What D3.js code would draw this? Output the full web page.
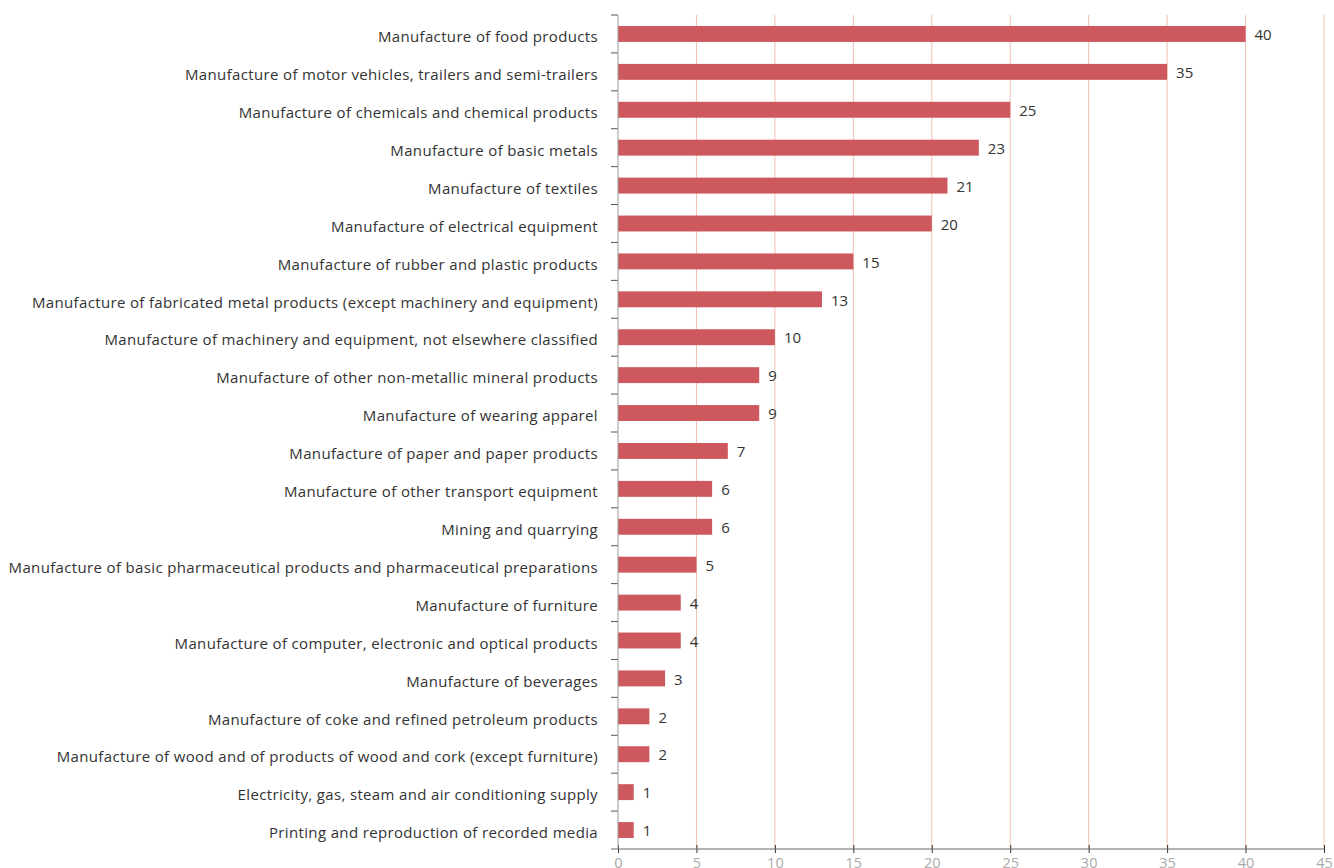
<!DOCTYPE html>
<html>
<head>
<meta charset="utf-8">
<script src="https://cdn.jsdelivr.net/npm/d3@7"></script>
<style>
  body { margin: 0; background: #fff; }
  svg { display: block; font-family: "Open Sans", "Noto Sans", sans-serif; }
</style>
</head>
<body>
<svg id="vis" width="1334" height="868"></svg>
<script>
// categories and counts, top to bottom
const categories = [
    "Manufacture of food products",
    "Manufacture of motor vehicles, trailers and semi-trailers",
    "Manufacture of chemicals and chemical products",
    "Manufacture of basic metals",
    "Manufacture of textiles",
    "Manufacture of electrical equipment",
    "Manufacture of rubber and plastic products",
    "Manufacture of fabricated metal products (except machinery and equipment)",
    "Manufacture of machinery and equipment, not elsewhere classified",
    "Manufacture of other non-metallic mineral products",
    "Manufacture of wearing apparel",
    "Manufacture of paper and paper products",
    "Manufacture of other transport equipment",
    "Mining and quarrying",
    "Manufacture of basic pharmaceutical products and pharmaceutical preparations",
    "Manufacture of furniture",
    "Manufacture of computer, electronic and optical products",
    "Manufacture of beverages",
    "Manufacture of coke and refined petroleum products",
    "Manufacture of wood and of products of wood and cork (except furniture)",
    "Electricity, gas, steam and air conditioning supply",
    "Printing and reproduction of recorded media"
];
const values = [40, 35, 25, 23, 21, 20, 15, 13, 10, 9, 9, 7, 6, 6, 5, 4, 4, 3, 2, 2, 1, 1];
const xTicks = [0, 5, 10, 15, 20, 25, 30, 35, 40, 45];

const MARGINS = {top: 15, right: 10, bottom: 19, left: 618};
const width = 1334, height = 868;

const data = categories.map((c, i) => ({name: c, value: values[i]}));

const svg = d3.select("#vis");

const x = d3.scaleLinear()
    .domain([0, 45])
    .range([MARGINS.left, 1324]);

const y = d3.scaleBand()
    .domain(categories)
    .range([MARGINS.top, height - MARGINS.bottom])
    .paddingInner(0.58)
    .paddingOuter(0.29);

const plotBottom = height - MARGINS.bottom;

// grid lines
svg.append("g")
    .selectAll("line")
    .data(xTicks.filter(d => d > 0))
    .enter()
    .append("line")
    .attr("x1", d => x(d)).attr("x2", d => x(d))
    .attr("y1", MARGINS.top).attr("y2", plotBottom)
    .attr("stroke", "#f0bfb0")
    .attr("stroke-width", 1);

// bars
svg.append("g")
    .selectAll("rect")
    .data(data)
    .enter()
    .append("rect")
    .attr("x", x(0))
    .attr("y", d => y(d.name))
    .attr("width", d => x(d.value) - x(0))
    .attr("height", y.bandwidth())
    .attr("fill", "#cd585d");

// value labels
svg.append("g")
    .selectAll("text")
    .data(data)
    .enter()
    .append("text")
    .attr("x", d => x(d.value) + 9)
    .attr("y", d => y(d.name) + y.bandwidth() / 2 + 1)
    .attr("dy", "0.35em")
    .attr("fill", "#333")
    .style("font-size", "15px")
    .text(d => d.value);

// x axis
const xAxis = d3.axisBottom(x)
    .tickValues(xTicks)
    .tickSize(4)
    .tickPadding(5);
const gx = svg.append("g")
    .attr("transform", `translate(0, ${plotBottom})`)
    .call(xAxis);
gx.select(".domain").remove();
gx.append("line")
    .attr("x1", 611).attr("x2", 1324)
    .attr("stroke", "#666");
gx.selectAll(".tick line").attr("y1", -4).attr("stroke", "#333");
gx.selectAll(".tick text")
    .attr("fill", "#aaa")
    .style("font-size", "14.5px")
    .style("font-family", "'Open Sans', 'Noto Sans', sans-serif");

// y axis: ticks at band boundaries
const boundaries = categories.map(c => y(c) - y.step() * y.paddingInner() / 2);
svg.append("g")
    .selectAll("line")
    .data(boundaries)
    .enter()
    .append("line")
    .attr("x1", MARGINS.left - 7).attr("x2", MARGINS.left)
    .attr("y1", d => d).attr("y2", d => d)
    .attr("stroke", "#555");
svg.append("line")
    .attr("x1", MARGINS.left).attr("x2", MARGINS.left)
    .attr("y1", MARGINS.top).attr("y2", plotBottom)
    .attr("stroke", "#999");

// category labels
svg.append("g")
    .selectAll("text")
    .data(data)
    .enter()
    .append("text")
    .attr("x", MARGINS.left - 20)
    .attr("y", d => y(d.name) + y.bandwidth() / 2 + 3)
    .attr("dy", "0.35em")
    .attr("text-anchor", "end")
    .attr("fill", "#333")
    .style("font-size", "15px")
    .style("letter-spacing", "0.35px")
    .text(d => d.name);
</script>
</body>
</html>
